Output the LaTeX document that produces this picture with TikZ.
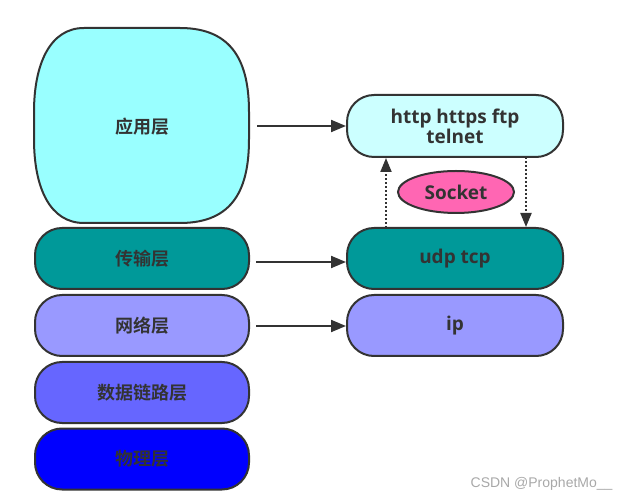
\documentclass[tikz,border=0pt]{standalone}
\usepackage{fontspec}
\setmainfont{Noto Sans CJK SC}[BoldFont={Noto Sans CJK SC Bold}]
\newfontfamily\latfont{Open Sans}[BoldFont={* Bold}]
\newfontfamily\wmfont{Liberation Sans}
\usetikzlibrary{arrows.meta,shapes.geometric}
\definecolor{edge}{HTML}{333333}
\definecolor{appc}{HTML}{99FFFF}
\definecolor{tranc}{HTML}{009999}
\definecolor{netc}{HTML}{9999FF}
\definecolor{linkc}{HTML}{6666FF}
\definecolor{phyc}{HTML}{0000FF}
\definecolor{protoc}{HTML}{CCFFFF}
\definecolor{sockc}{HTML}{FF66B3}
\definecolor{wmc}{HTML}{A8A8A8}
\begin{document}
\begin{tikzpicture}[x=1pt,y=-1pt,
  layer/.style={draw=edge, line width=2pt, rectangle, rounded corners=27pt,
    minimum width=214pt, minimum height=61pt, inner sep=0pt,
    font=\bfseries\fontsize{18}{20}\selectfont, text=edge},
  proto/.style={layer, minimum width=216pt, align=center, font=\latfont\bfseries\fontsize{19}{20}\selectfont},
  arr/.style={draw=edge, line width=2pt, -{Triangle[length=15pt,width=12pt]}},
  dotarr/.style={draw=edge, line width=2pt, dotted, -{Triangle[length=14pt,width=11pt]}}]
\useasboundingbox (0,0) rectangle (629,502);
\draw[draw=edge, line width=2pt, fill=appc]
  (84,28) -- (180,28) .. controls (234,28) and (249,64) .. (249,112) -- (249,139)
  .. controls (249,188) and (234,223) .. (180,223) -- (84,223)
  .. controls (50,223) and (34,188) .. (34,139) -- (34,112)
  .. controls (34,64) and (50,28) .. (84,28) -- cycle;
\node[font=\bfseries\fontsize{18}{20}\selectfont, text=edge] (app) at (142,127) {应用层};
\node[layer, fill=tranc] (tran) at (142,258.5) {传输层};
\node[layer, fill=netc] (net) at (142,325.5) {网络层};
\node[layer, fill=linkc] (link) at (142,392.5) {数据链路层};
\node[layer, fill=phyc] (phy) at (142,459) {物理层};
\node[proto, fill=protoc, minimum height=62pt] (http) at (455,126) {http https ftp\\telnet};
\node[proto, fill=tranc] (udp) at (455,258.5) {udp tcp};
\node[proto, fill=netc] (ip) at (455,325.5) {ip};
\node[draw=edge, line width=2pt, ellipse, fill=sockc, minimum width=116pt, minimum height=42pt,
  inner sep=0pt, font=\latfont\bfseries\fontsize{19}{20}\selectfont, text=edge] (sock) at (456,192) {Socket};
\node[font=\wmfont\fontsize{14}{16}\selectfont, text=wmc, anchor=east] (wm) at (616,484) {CSDN @ProphetMo\_\_};
\coordinate (a1) at (257,126);
\coordinate (t1) at (256,262);
\coordinate (n1) at (256,326);
\draw[arr] (a1) -- (http.west |- a1);
\draw[arr] (t1) -- (udp.west |- t1);
\draw[arr] (n1) -- (ip.west |- n1);
\coordinate (u1) at (386,228);
\coordinate (u2) at (526,157);
\draw[dotarr] (u1) -- (u1 |- http.south);
\draw[dotarr] (u2) -- (u2 |- udp.north);
\end{tikzpicture}
\end{document}
